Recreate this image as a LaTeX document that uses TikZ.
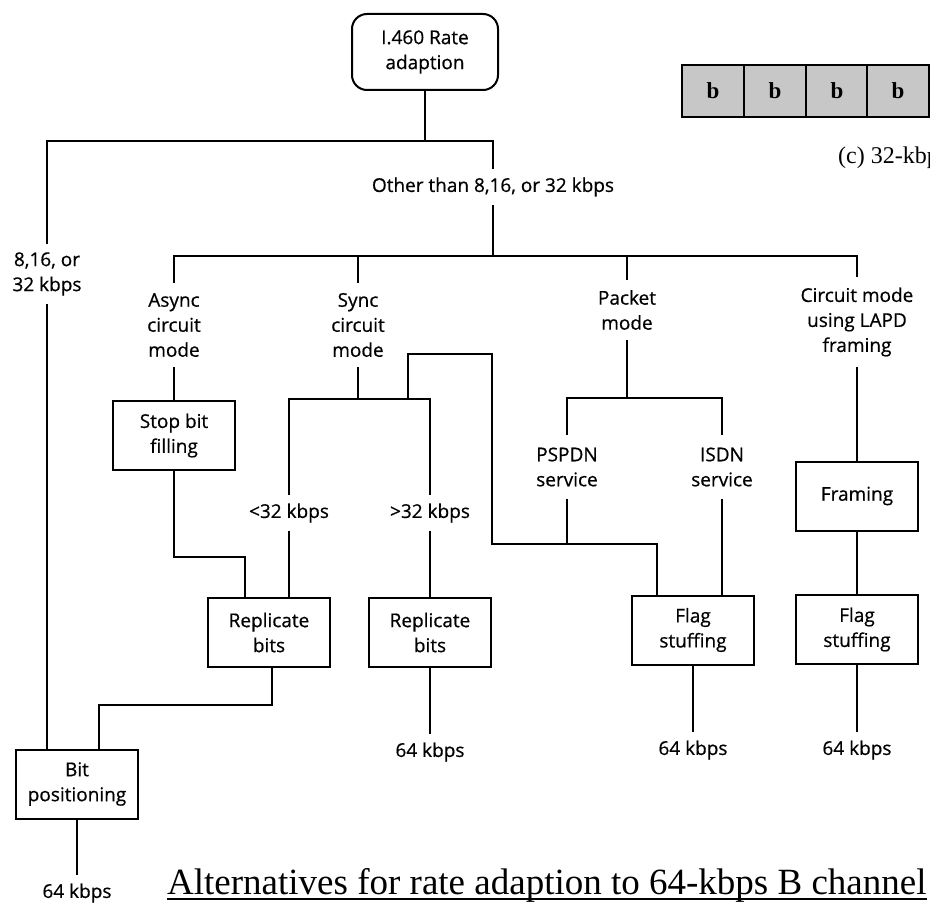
\documentclass[tikz,border=0pt]{standalone}
\usepackage{fontspec}
\setmainfont{Liberation Serif}
\newfontfamily\diagfont[FakeBold=0.6]{Open Sans}
\begin{document}
\begin{tikzpicture}[x=1pt,y=-1pt,
  wire/.style={line width=2.7pt, line join=miter},
  lbl/.style={font=\diagfont\fontsize{19}{25}\selectfont, align=center,
    inner xsep=2pt, inner ysep=8pt},
  box/.style={lbl, draw, line width=2pt, inner sep=0pt,
    minimum width=122pt, minimum height=69pt},
  bitcell/.style={draw, line width=1.6pt, fill=black!22, minimum width=62pt,
    minimum height=52pt, inner sep=0pt,
    font=\bfseries\fontsize{23}{23}\selectfont}
]
\useasboundingbox (0,0) rectangle (930,907);
\clip (0,0) rectangle (930,907);

% 32-kbps bit pattern strip (upper right)
\node[bitcell] (b1) at (713,91) {b};
\node[bitcell] (b2) at (775,91) {b};
\node[bitcell] (b3) at (837,91) {b};
\node[bitcell] (b4) at (898,91) {b};
\node[bitcell] (b5) at (960,91) {};
\node[anchor=west, font=\fontsize{24}{24}\selectfont, inner sep=0pt] (capc) at (838,158) {(c) 32-kbps};

% root of the tree
\node[lbl, draw, line width=2pt, rounded corners=15pt, minimum width=146pt,
  minimum height=76pt, inner sep=0pt] (top) at (425,52) {I.460 Rate\\adaption};

% first split
\node[lbl] (lbl816) at (47,274) {8,16, or\\32 kbps};
\node[lbl] (other) at (493,187) {Other than 8,16, or 32 kbps};
\coordinate (busL) at (47,141);
\coordinate (busR) at (493,141);
\draw[wire] (top.south) -- (top.south |- busL);
\draw[wire] (lbl816.north) -- (busL) -- (busR) -- (other.north);

% second split
\node[lbl, inner ysep=10pt] (async) at (174,325) {Async\\circuit\\mode};
\node[lbl, inner ysep=10pt] (sync) at (358,325) {Sync\\circuit\\mode};
\node[lbl, inner ysep=10pt] (packet) at (627,310) {Packet\\mode};
\node[lbl, inner ysep=10pt] (circuit) at (857,322) {Circuit mode\\using LAPD\\framing};
\coordinate (bus2L) at (174,256);
\coordinate (bus2R) at (857,256);
\draw[wire] (other.south) -- (other.south |- bus2L);
\draw[wire] (async.north) -- (bus2L) -- (bus2R) -- (circuit.north);
\draw[wire] (sync.north) -- (sync.north |- bus2L);
\draw[wire] (packet.north) -- (packet.north |- bus2L);

% async branch
\node[box] (stop) at (174,435.5) {Stop bit\\filling};
\draw[wire] (async.south) -- (stop.north);

% sync branch
\node[lbl] (lt32) at (289,513) {<32 kbps};
\node[lbl] (gt32) at (430,513) {>32 kbps};
\node[box] (rep1) at (269,632.5) {Replicate\\bits};
\node[box] (rep2) at (430,632.5) {Replicate\\bits};
\coordinate (s1) at (289,399);
\coordinate (s2) at (430,399);
\coordinate (s3) at (408,399);
\coordinate (s4) at (492,354);
\coordinate (s5) at (657,544);
\draw[wire] (sync.south) -- (sync.south |- s1);
\draw[wire] (lt32.north) -- (s1) -- (s2) -- (gt32.north);
\draw[wire] (lt32.south) -- (lt32.south |- rep1.north);
\draw[wire] (gt32.south) -- (rep2.north);
\coordinate (k1) at (245,557);
\draw[wire] (stop.south) |- (k1) -- (k1 |- rep1.north);

% packet branch
\node[lbl, inner ysep=12pt] (pspdn) at (567,467) {PSPDN\\service};
\node[lbl, inner ysep=12pt] (isdn) at (722,467) {ISDN\\service};
\node[box] (flag1) at (693,630) {Flag\\stuffing};
\coordinate (p1) at (567,398);
\coordinate (p2) at (722,398);
\draw[wire] (packet.south) -- (packet.south |- p1);
\draw[wire] (pspdn.north) -- (p1) -- (p2) -- (isdn.north);
\draw[wire] (isdn.south) -- (isdn.south |- flag1.north);
\draw[wire] (pspdn.south) -- (pspdn.south |- s5);
\draw[wire] (s3) |- (s4) |- (s5) -- (s5 |- flag1.north);

% LAPD branch
\node[box] (framing) at (857,496) {Framing};
\node[box] (flag2) at (857,629.5) {Flag\\stuffing};
\draw[wire] (circuit.south) -- (framing.north);
\draw[wire] (framing.south) -- (flag2.north);

% bit positioning
\node[box] (bitpos) at (77,784) {Bit\\positioning};
\coordinate (k2) at (272,705);
\coordinate (k3) at (99,705);
\draw[wire] (rep1.south -| k2) -- (k2) -- (k3) -- (k3 |- bitpos.north);
\draw[wire] (lbl816.south) -- (lbl816.south |- bitpos.north);

% 64 kbps outputs
\node[lbl] (out1) at (77,893) {64 kbps};
\node[lbl] (out2) at (430,752) {64 kbps};
\node[lbl] (out3) at (693,750) {64 kbps};
\node[lbl] (out4) at (857,750) {64 kbps};
\draw[wire] (bitpos.south) -- (out1.north);
\draw[wire] (rep2.south) -- (out2.north);
\draw[wire] (flag1.south) -- (out3.north);
\draw[wire] (flag2.south) -- (out4.north);

% caption
\node[anchor=base west, inner sep=0pt, font=\fontsize{37}{37}\selectfont]
  (cap) at (167,894) {Alternatives for rate adaption to 64-kbps B channel};
\draw[line width=1.6pt] ([yshift=-5pt]cap.base west) -- ([yshift=-5pt]cap.base east);
\end{tikzpicture}
\end{document}
